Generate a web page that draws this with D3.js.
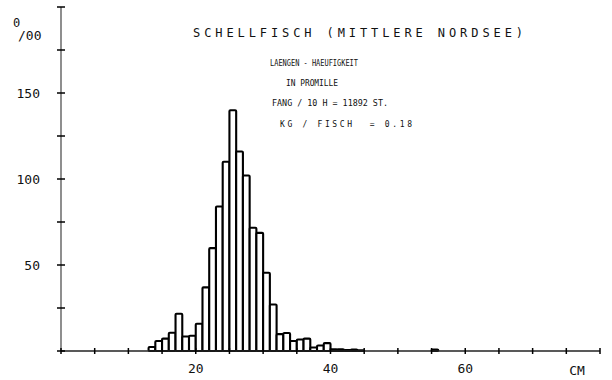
<!DOCTYPE html>
<html>
<head>
<meta charset="utf-8">
<script src="https://cdn.jsdelivr.net/npm/d3@7"></script>
<style>
  body { margin: 0; background: #fff; }
  text { font-family: "DejaVu Sans Mono", "Liberation Mono", monospace; fill: #111; white-space: pre; }
</style>
</head>
<body>
<svg id="chart" width="612" height="380"></svg>
<script>
// Laengen (cm, Klassenanfang) und Haeufigkeit in Promille
const lengths = [13, 14, 15, 16, 17, 18, 19, 20, 21, 22, 23, 24, 25, 26, 27, 28, 29, 30,
  31, 32, 33, 34, 35, 36, 37, 38, 39, 40, 41, 42, 43, 44, 55];
const permille = [2.3, 5.8, 7.2, 10.6, 21.7, 8.4, 8.9, 15.8, 37, 59.8, 84, 110, 140, 116, 102, 71.7, 68.7, 45.5,
  27, 9.8, 10.5, 5.8, 6.7, 7.2, 2, 3.2, 4.6, 1, 1, 0.6, 0.8, 0.4, 0.9];
const xTicks = [0, 5, 10, 15, 20, 25, 30, 35, 40, 45, 50, 55, 60, 65, 70, 75, 80];
const xLabels = [20, 40, 60];
const yTicks = [0, 25, 50, 75, 100, 125, 150, 175, 200];
const yLabels = [50, 100, 150];
const title = "SCHELLFISCH (MITTLERE NORDSEE)";
const infoLines = ["LAENGEN - HAEUFIGKEIT", "IN PROMILLE", "FANG / 10 H = 11892 ST.", "KG / FISCH  = 0.18"];

const svg = d3.select("#chart");
const x = d3.scaleLinear().domain([0, 80]).range([61, 600]);
const y = d3.scaleLinear().domain([0, 200]).range([351, 7]);

const bins = lengths.map((l, i) => ({ l: l, v: permille[i] }));

// Balken (Plotter-Umrisse)
svg.append("g")
  .selectAll("rect")
  .data(bins)
  .enter()
  .append("rect")
  .attr("x", d => x(d.l))
  .attr("y", d => y(d.v))
  .attr("width", d => x(d.l + 1) - x(d.l))
  .attr("height", d => y(0) - y(d.v))
  .attr("rx", 1)
  .attr("fill", "#fff")
  .attr("stroke", "#000")
  .attr("stroke-width", 2.1);

// Achsen
svg.append("line")
  .attr("x1", x(0)).attr("x2", x(80))
  .attr("y1", y(0)).attr("y2", y(0))
  .attr("stroke", "#222").attr("stroke-width", 1.4);
svg.append("line")
  .attr("x1", x(0)).attr("x2", x(0))
  .attr("y1", y(0)).attr("y2", y(200))
  .attr("stroke", "#444").attr("stroke-width", 1.2);

svg.append("g")
  .selectAll("line")
  .data(xTicks)
  .enter()
  .append("line")
  .attr("x1", d => x(d)).attr("x2", d => x(d))
  .attr("y1", y(0) - 3).attr("y2", y(0) + 3)
  .attr("stroke", "#000").attr("stroke-width", 1.5);

svg.append("g")
  .selectAll("line")
  .data(yTicks)
  .enter()
  .append("line")
  .attr("x1", x(0) - 4).attr("x2", x(0) + 4)
  .attr("y1", d => y(d)).attr("y2", d => y(d))
  .attr("stroke", "#000").attr("stroke-width", 1.5);

svg.append("g")
  .selectAll("text")
  .data(xLabels)
  .enter()
  .append("text")
  .attr("x", d => x(d))
  .attr("y", 373)
  .attr("text-anchor", "middle")
  .attr("font-size", 13)
  .text(d => d);

svg.append("text")
  .attr("x", 577).attr("y", 375)
  .attr("text-anchor", "middle")
  .attr("font-size", 13)
  .attr("fill", "#333")
  .text("CM");

svg.append("g")
  .selectAll("text")
  .data(yLabels)
  .enter()
  .append("text")
  .attr("x", 40)
  .attr("y", d => y(d) + 5)
  .attr("text-anchor", "end")
  .attr("font-size", 13)
  .text(d => d);

// Promille-Zeichen
svg.append("text").attr("x", 13).attr("y", 27).attr("font-size", 12).text("0");
svg.append("text").attr("x", 18).attr("y", 40).attr("font-size", 13).text("/00");

// Titel und Angaben
svg.append("text")
  .attr("x", 193).attr("y", 37)
  .attr("font-size", 12)
  .attr("fill", "#333")
  .attr("textLength", 330)
  .attr("lengthAdjust", "spacing")
  .text(title);

const infoX = [270, 286, 272, 280];
const infoY = [66, 86, 106, 127];
const infoW = [88, 52, 116, 132];
const infoAdjust = ["spacingAndGlyphs", "spacingAndGlyphs", "spacingAndGlyphs", "spacing"];
svg.append("g")
  .selectAll("text")
  .data(infoLines)
  .enter()
  .append("text")
  .attr("x", (d, i) => infoX[i])
  .attr("y", (d, i) => infoY[i])
  .attr("font-size", 8)
  .attr("textLength", (d, i) => infoW[i])
  .attr("lengthAdjust", (d, i) => infoAdjust[i])
  .text(d => d);
</script>
</body>
</html>
